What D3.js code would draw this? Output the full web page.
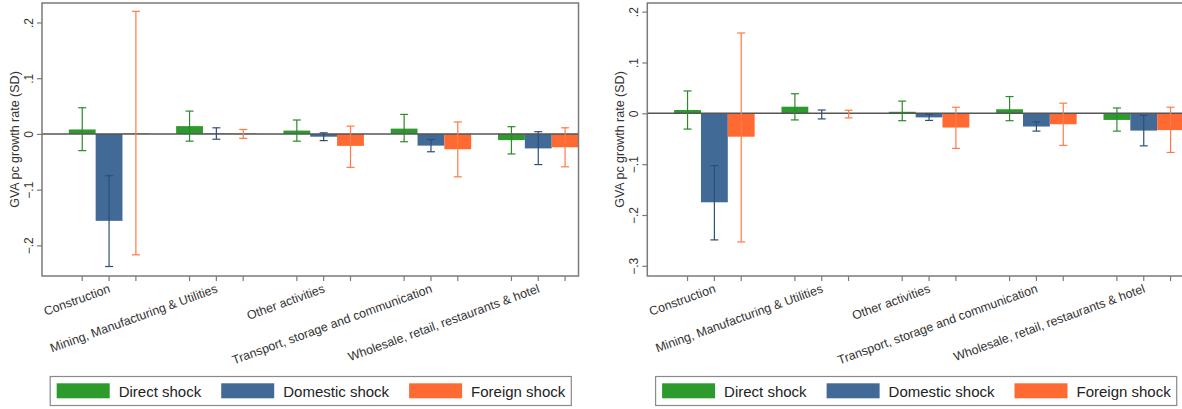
<!DOCTYPE html>
<html><head><meta charset="utf-8">
<script src="https://cdn.jsdelivr.net/npm/d3@7"></script>
<style>body{margin:0;background:#fff}svg{display:block;font-family:Arial,"Liberation Sans",sans-serif}</style>
</head><body>
<svg id="c" width="1182" height="409"></svg>
<script>
const categories = ["Construction","Mining, Manufacturing & Utilities","Other activities","Transport, storage and communication","Wholesale, retail, restaurants & hotel"];
const seriesNames = ["Direct shock","Domestic shock","Foreign shock"];
const seriesColors = ["#2d9a2d","#416b96","#ff6a33"];
const ciColors = ["#2a8a2a","#2c4f78","#ff7a45"];

// Left panel
const direct1 = [0.008, 0.014, 0.006, 0.0095, -0.011];
const direct1Lo = [-0.030, -0.013, -0.013, -0.014, -0.036];
const direct1Hi = [0.047, 0.041, 0.025, 0.035, 0.013];
const domestic1 = [-0.156, 0.001, -0.005, -0.021, -0.026];
const domestic1Lo = [-0.238, -0.0095, -0.012, -0.032, -0.055];
const domestic1Hi = [-0.075, 0.011, 0.002, -0.010, 0.004];
const foreign1 = [0.001, 0.001, -0.0215, -0.0275, -0.024];
const foreign1Lo = [-0.217, -0.008, -0.060, -0.077, -0.059];
const foreign1Hi = [0.220, 0.008, 0.014, 0.0215, 0.011];
const yTicks1 = [-0.2, -0.1, 0, 0.1, 0.2];

// Right panel
const direct2 = [0.0065, 0.013, 0.003, 0.008, -0.013];
const direct2Lo = [-0.031, -0.013, -0.0145, -0.0145, -0.035];
const direct2Hi = [0.044, 0.0385, 0.024, 0.033, 0.0105];
const domestic2 = [-0.175, -0.001, -0.008, -0.026, -0.034];
const domestic2Lo = [-0.249, -0.011, -0.014, -0.035, -0.064];
const domestic2Hi = [-0.103, 0.0065, -0.002, -0.017, -0.004];
const foreign2 = [-0.046, 0.0, -0.028, -0.0215, -0.033];
const foreign2Lo = [-0.253, -0.009, -0.069, -0.063, -0.077];
const foreign2Hi = [0.158, 0.006, 0.012, 0.020, 0.012];
const yTicks2 = [-0.3, -0.2, -0.1, 0, 0.1, 0.2];

const svg = d3.select("#c");
const fmt = d => d === 0 ? "0" : d3.format(".1f")(d).replace("0.", ".");

function panel(x0, x1, yDomain, yTicks, vals, los, his) {
  const top = 3, bottom = 276;
  const g = svg.append("g");
  const x = d3.scaleBand().domain(categories).range([x0, x1])
    .paddingInner(0.25).paddingOuter(0.125).align(1);
  const xs = d3.scaleBand().domain(seriesNames).range([0, x.bandwidth()]).padding(0);
  const y = d3.scaleLinear().domain(yDomain).range([bottom, top]);

  const rows = [];
  categories.forEach((c, i) => seriesNames.forEach((s, j) => {
    rows.push({c, s, j, v: vals[j][i], lo: los[j][i], hi: his[j][i]});
  }));

  g.append("g").selectAll("rect").data(rows).join("rect")
    .attr("x", d => x(d.c) + xs(d.s))
    .attr("width", xs.bandwidth())
    .attr("y", d => y(Math.max(0, d.v)))
    .attr("height", d => Math.abs(y(d.v) - y(0)))
    .attr("fill", d => seriesColors[d.j]);

  // zero line
  g.append("line").attr("x1", x0).attr("x2", x1).attr("y1", y(0)).attr("y2", y(0))
    .attr("stroke", "#555").attr("stroke-width", 1.5);

  // error bars
  const eb = g.append("g").selectAll("g").data(rows).join("g")
    .attr("stroke", d => ciColors[d.j]).attr("stroke-width", 1.2);
  const cx = d => x(d.c) + xs(d.s) + xs.bandwidth() / 2;
  eb.append("line").attr("x1", cx).attr("x2", cx).attr("y1", d => y(d.lo)).attr("y2", d => y(d.hi));
  eb.append("line").attr("x1", d => cx(d) - 4).attr("x2", d => cx(d) + 4).attr("y1", d => y(d.lo)).attr("y2", d => y(d.lo));
  eb.append("line").attr("x1", d => cx(d) - 4).attr("x2", d => cx(d) + 4).attr("y1", d => y(d.hi)).attr("y2", d => y(d.hi));

  // frame
  g.append("rect").attr("x", x0).attr("y", top).attr("width", x1 - x0).attr("height", bottom - top)
    .attr("fill", "none").attr("stroke", "#7a7a7a").attr("stroke-width", 1.5);

  // y axis
  const ya = g.append("g").attr("transform", `translate(${x0},0)`)
    .call(d3.axisLeft(y).tickValues(yTicks).tickSize(5).tickFormat(fmt));
  ya.select(".domain").remove();
  ya.selectAll("line").attr("stroke", "#7a7a7a").attr("stroke-width", 1.2);
  ya.selectAll("text").attr("transform", "rotate(-90)").attr("x", 0).attr("dy", 0)
    .attr("y", -9).attr("text-anchor", "middle")
    .attr("font-size", 12).attr("fill", "#333");

  g.append("text").attr("transform", `translate(${x0 - 23},${(top + bottom) / 2}) rotate(-90)`)
    .attr("text-anchor", "middle").attr("font-size", 12.5).attr("fill", "#333")
    .text("GVA pc growth rate (SD)");

  // x axis ticks at each bar
  const xb = d3.scaleBand().domain(rows.map(d => d.c + "|" + d.s))
    .range([0, 1]);
  const tickX = rows.map(d => cx(d));
  g.append("g").selectAll("line").data(tickX).join("line")
    .attr("x1", d => d).attr("x2", d => d).attr("y1", bottom).attr("y2", bottom + 5)
    .attr("stroke", "#7a7a7a").attr("stroke-width", 1.2);

  g.append("g").selectAll("text").data(categories).join("text")
    .attr("transform", d => `translate(${x(d) + x.bandwidth() / 2 + 2},${bottom + 16}) rotate(-20)`)
    .attr("text-anchor", "end").attr("font-size", 12.4).attr("fill", "#333")
    .text(d => d);

  // legend
  const lg = g.append("g");
  const keyW = 53, keyH = 15, gapKT = 9, gapE = 20, padL = 6.5, padR = 6;
  let cur = 0;
  const items = [];
  seriesNames.forEach((s, j) => {
    const t = lg.append("text").attr("font-size", 15).attr("fill", "#222").text(s);
    const w = t.node().getComputedTextLength();
    items.push({t, w, j, start: cur});
    cur += keyW + gapKT + w + (j < seriesNames.length - 1 ? gapE : 0);
  });
  const totalW = padL + cur + padR;
  const lx = (x0 + x1) / 2 - totalW / 2 + 0.5;
  const ly = 376.5, lh = 29;
  lg.insert("rect", ":first-child").attr("x", lx).attr("y", ly).attr("width", totalW).attr("height", lh)
    .attr("fill", "#fff").attr("stroke", "#8a8a8a").attr("stroke-width", 1.2);
  items.forEach(it => {
    const kx = lx + padL + it.start;
    lg.append("rect").attr("x", kx).attr("y", ly + 6.8).attr("width", keyW).attr("height", keyH)
      .attr("fill", seriesColors[it.j]);
    it.t.attr("x", kx + keyW + gapKT).attr("y", ly + 20.5);
  });
}

panel(42, 578.5, [-0.255, 0.235], yTicks1,
  [direct1, domestic1, foreign1], [direct1Lo, domestic1Lo, foreign1Lo], [direct1Hi, domestic1Hi, foreign1Hi]);
panel(647.3, 1184, [-0.32, 0.217], yTicks2,
  [direct2, domestic2, foreign2], [direct2Lo, domestic2Lo, foreign2Lo], [direct2Hi, domestic2Hi, foreign2Hi]);
</script>
</body></html>
